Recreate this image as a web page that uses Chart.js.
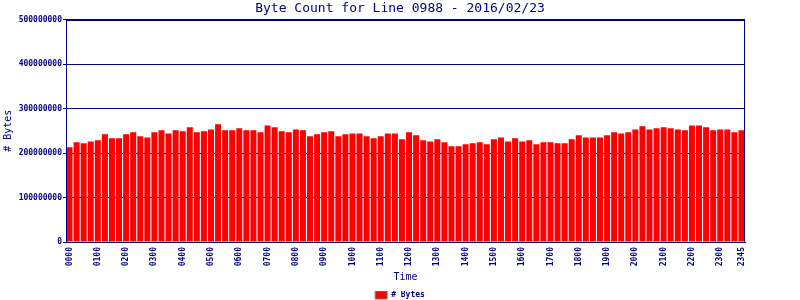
<!DOCTYPE html>
<html>
<head>
<meta charset="utf-8">
<script src="https://cdn.jsdelivr.net/npm/chart.js@4.4.0/dist/chart.umd.min.js"></script>
<style>
  html, body { margin: 0; padding: 0; background: #fff; }
  #wrap { width: 800px; height: 300px; }
</style>
</head>
<body>
<div id="wrap"><canvas id="byteChart"></canvas></div>
<script>
// 15-minute slots for the day, 0000 .. 2345
const timeSlots = [];
for (let h = 0; h < 24; h++) {
    for (let m = 0; m < 60; m += 15) {
        timeSlots.push(String(h).padStart(2, '0') + String(m).padStart(2, '0'));
    }
}

// byte counts (millions)
const byteCountsM = [
    213, 224, 222, 226, 229, 242, 233, 233, 242, 247, 238, 235,
    247, 251, 244, 251, 249, 258, 247, 249, 253, 265, 251, 251,
    256, 251, 251, 247, 262, 258, 249, 247, 253, 251, 238, 242,
    247, 249, 238, 242, 244, 244, 238, 233, 238, 244, 244, 231,
    247, 240, 229, 226, 231, 224, 215, 215, 220, 222, 224, 220,
    231, 235, 226, 233, 226, 229, 220, 224, 224, 222, 222, 231,
    240, 235, 235, 235, 240, 247, 244, 247, 253, 260, 253, 256,
    258, 256, 253, 251, 262, 262, 258, 251, 253, 253, 247, 251
];
const byteCounts = byteCountsM.map(v => v * 1000000);

const yMax = 500000000;
const yStep = 100000000;

const navy = '#000080';
const mono = '"DejaVu Sans Mono", "Liberation Mono", monospace';

// frame round the plot area (right side is not drawn by the axes)
const framePlugin = {
    id: 'frame',
    afterDatasetsDraw(chart) {
        const a = chart.chartArea;
        const ctx = chart.ctx;
        ctx.save();
        ctx.strokeStyle = navy;
        ctx.lineWidth = 1;
        ctx.strokeRect(Math.round(a.left) + 0.5, Math.round(a.top) + 0.5,
            Math.round(a.right - a.left) - 1, Math.round(a.bottom - a.top));
        ctx.restore();
    }
};

document.addEventListener('DOMContentLoaded', () => {
    const canvas = document.getElementById('byteChart');
    new Chart(canvas, {
        type: 'bar',
        data: {
            labels: timeSlots,
            datasets: [{
                label: '# Bytes',
                data: byteCounts,
                backgroundColor: '#ff0000',
                borderWidth: 0,
                barPercentage: 0.85,
                categoryPercentage: 1.0
            }]
        },
        options: {
            responsive: true,
            maintainAspectRatio: false,
            animation: false,
            layout: { padding: { left: 0, right: 0, top: 0, bottom: -9 } },
            plugins: {
                title: {
                    display: true,
                    text: 'Byte Count for Line 0988 - 2016/02/23',
                    color: navy,
                    font: { family: mono, size: 13, weight: 'normal' },
                    padding: { top: 1, bottom: 3 }
                },
                legend: {
                    position: 'bottom',
                    labels: {
                        color: navy,
                        font: { family: mono, size: 8, weight: 'bold' },
                        boxWidth: 12,
                        boxHeight: 8,
                        padding: 0,
                        generateLabels(chart) {
                            const items = Chart.defaults.plugins.legend.labels.generateLabels(chart);
                            items.forEach(it => { it.strokeStyle = '#808080'; it.lineWidth = 1; });
                            return items;
                        }
                    }
                },
                tooltip: { enabled: false }
            },
            scales: {
                x: {
                    offset: true,
                    grid: { display: false, drawTicks: false },
                    border: { color: navy, width: 1 },
                    ticks: {
                        color: navy,
                        font: { family: mono, size: 8, weight: 'bold' },
                        autoSkip: false,
                        maxRotation: 90,
                        minRotation: 90,
                        padding: 5,
                        callback(value, index) {
                            return (index % 4 === 0 || index === timeSlots.length - 1) ? timeSlots[index] : '';
                        }
                    },
                    title: {
                        display: true,
                        text: 'Time',
                        color: navy,
                        font: { family: mono, size: 10, weight: 'normal' },
                        padding: { top: 0, bottom: 8 }
                    },
                    afterFit(scale) { scale.height = 49; }
                },
                y: {
                    min: 0,
                    max: yMax,
                    grid: { color: navy, lineWidth: 1, tickLength: 3 },
                    border: { color: navy, width: 1 },
                    ticks: {
                        stepSize: yStep,
                        color: navy,
                        font: { family: mono, size: 8, weight: 'bold' },
                        padding: 1,
                        callback: v => String(v)
                    },
                    title: {
                        display: true,
                        text: '# Bytes',
                        color: navy,
                        font: { family: mono, size: 10, weight: 'normal' },
                        padding: { top: 2, bottom: 0 }
                    },
                    afterFit(scale) { scale.width = 66; }
                },
                // empty strip on the right so title and legend centre on the page
                yRight: {
                    position: 'right',
                    min: 0,
                    max: yMax,
                    grid: { display: false, drawTicks: false },
                    border: { display: false },
                    ticks: { display: false },
                    afterFit(scale) { scale.width = 55; }
                }
            }
        },
        plugins: [framePlugin]
    });
});
</script>
</body>
</html>
